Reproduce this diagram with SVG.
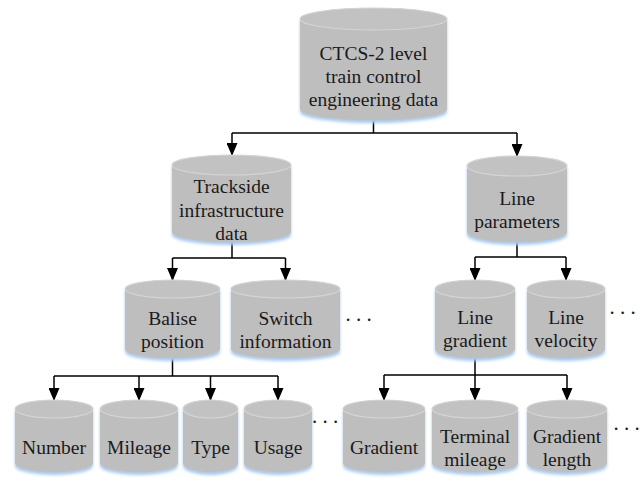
<svg xmlns="http://www.w3.org/2000/svg" width="644" height="481" viewBox="0 0 644 481">
  <style>
    .glow { fill: #a9c9ec; filter: url(#soft); }
    .body { fill: #bebebe; }
    .lid { fill: #c2c2c2; stroke: #d4d4d4; stroke-width: 1.2; }
    text { font-family: "Liberation Serif", "Tinos", "Times New Roman", "Nimbus Roman", "DejaVu Serif", serif; }
    .label { font-size: 19.5px; fill: #1a1a1a; text-anchor: middle; }
    .dots { font-size: 21px; fill: #1a1a1a; }
    .wire { fill: none; stroke: #000; stroke-width: 1.5; }
    .arrow { fill: none; stroke: #000; stroke-width: 1.5; marker-end: url(#head); }
  </style>
  <defs>
    <filter id="soft" x="-10%" y="-10%" width="120%" height="130%">
      <feGaussianBlur stdDeviation="1.8"/>
    </filter>
    <marker id="head" viewBox="0 0 13 11" markerWidth="13" markerHeight="11" refX="12" refY="5.5" orient="auto" markerUnits="userSpaceOnUse">
      <path d="M0,0 L13,5.5 L0,11 Z" fill="#000"/>
    </marker>
  </defs>
  <rect width="644" height="481" fill="#fff"/>

  <!-- connectors -->
  <g id="connectors">
    <path class="wire" d="M373.5,120 V133 M232,133 H517"/>
    <path class="arrow" d="M232,133 V155"/>
    <path class="arrow" d="M517,133 V156"/>

    <path class="wire" d="M232,242 V258 M172.5,258 H285.5"/>
    <path class="arrow" d="M172.5,258 V280"/>
    <path class="arrow" d="M285.5,258 V280"/>

    <path class="wire" d="M517,242 V257 M475,257 H566"/>
    <path class="arrow" d="M475,257 V280"/>
    <path class="arrow" d="M566,257 V280"/>

    <path class="wire" d="M172.5,358 V376 M54,376 H278"/>
    <path class="arrow" d="M54,376 V400"/>
    <path class="arrow" d="M139,376 V400"/>
    <path class="arrow" d="M210.5,376 V400"/>
    <path class="arrow" d="M278,376 V400"/>

    <path class="wire" d="M475,358 V375 M384,375 H567"/>
    <path class="arrow" d="M384,375 V400"/>
    <path class="arrow" d="M475,375 V400"/>
    <path class="arrow" d="M567,375 V400"/>
  </g>

  <!-- level 0 -->
  <g id="root">
    <path class="glow" transform="translate(0,3)" d="M300,19 A73.5,11 0 0 1 447,19 V109 A73.5,11 0 0 1 300,109 Z"/>
    <path class="body" d="M300,19 A73.5,11 0 0 1 447,19 V109 A73.5,11 0 0 1 300,109 Z"/>
    <ellipse class="lid" cx="373.5" cy="19" rx="73.5" ry="11"/>
    <text class="label" x="373.5" y="60">CTCS-2 level</text>
    <text class="label" x="373.5" y="83">train control</text>
    <text class="label" x="373.5" y="106">engineering data</text>
  </g>

  <!-- level 1 -->
  <g id="trackside">
    <path class="glow" transform="translate(0,3)" d="M172,165 A59.5,10 0 0 1 291,165 V232 A59.5,10 0 0 1 172,232 Z"/>
    <path class="body" d="M172,165 A59.5,10 0 0 1 291,165 V232 A59.5,10 0 0 1 172,232 Z"/>
    <ellipse class="lid" cx="231.5" cy="165" rx="59.5" ry="10"/>
    <text class="label" x="231.5" y="193">Trackside</text>
    <text class="label" x="231.5" y="216.5">infrastructure</text>
    <text class="label" x="231.5" y="240">data</text>
  </g>

  <g id="line-parameters">
    <path class="glow" transform="translate(0,3)" d="M467,166 A50,10 0 0 1 567,166 V232 A50,10 0 0 1 467,232 Z"/>
    <path class="body" d="M467,166 A50,10 0 0 1 567,166 V232 A50,10 0 0 1 467,232 Z"/>
    <ellipse class="lid" cx="517" cy="166" rx="50" ry="10"/>
    <text class="label" x="517" y="205">Line</text>
    <text class="label" x="517" y="228">parameters</text>
  </g>

  <!-- level 2 -->
  <g id="balise-position">
    <path class="glow" transform="translate(0,3)" d="M125,289 A47.5,9 0 0 1 220,289 V349 A47.5,9 0 0 1 125,349 Z"/>
    <path class="body" d="M125,289 A47.5,9 0 0 1 220,289 V349 A47.5,9 0 0 1 125,349 Z"/>
    <ellipse class="lid" cx="172.5" cy="289" rx="47.5" ry="9"/>
    <text class="label" x="172.5" y="325">Balise</text>
    <text class="label" x="172.5" y="348">position</text>
  </g>

  <g id="switch-information">
    <path class="glow" transform="translate(0,3)" d="M231,289 A54.5,9 0 0 1 340,289 V349 A54.5,9 0 0 1 231,349 Z"/>
    <path class="body" d="M231,289 A54.5,9 0 0 1 340,289 V349 A54.5,9 0 0 1 231,349 Z"/>
    <ellipse class="lid" cx="285.5" cy="289" rx="54.5" ry="9"/>
    <text class="label" x="285.5" y="325">Switch</text>
    <text class="label" x="285.5" y="348">information</text>
  </g>
  <text class="dots" x="345.5" y="321">. . .</text>

  <g id="line-gradient">
    <path class="glow" transform="translate(0,3)" d="M435,289 A40,9 0 0 1 515,289 V349 A40,9 0 0 1 435,349 Z"/>
    <path class="body" d="M435,289 A40,9 0 0 1 515,289 V349 A40,9 0 0 1 435,349 Z"/>
    <ellipse class="lid" cx="475" cy="289" rx="40" ry="9"/>
    <text class="label" x="475" y="324">Line</text>
    <text class="label" x="475" y="347">gradient</text>
  </g>

  <g id="line-velocity">
    <path class="glow" transform="translate(0,3)" d="M527,289 A39,9 0 0 1 605,289 V349 A39,9 0 0 1 527,349 Z"/>
    <path class="body" d="M527,289 A39,9 0 0 1 605,289 V349 A39,9 0 0 1 527,349 Z"/>
    <ellipse class="lid" cx="566" cy="289" rx="39" ry="9"/>
    <text class="label" x="566" y="324">Line</text>
    <text class="label" x="566" y="347">velocity</text>
  </g>
  <text class="dots" x="609.5" y="314">. . .</text>

  <!-- level 3 -->
  <g id="number">
    <path class="glow" transform="translate(0,3)" d="M15,409 A39,9 0 0 1 93,409 V463 A39,9 0 0 1 15,463 Z"/>
    <path class="body" d="M15,409 A39,9 0 0 1 93,409 V463 A39,9 0 0 1 15,463 Z"/>
    <ellipse class="lid" cx="54" cy="409" rx="39" ry="9"/>
    <text class="label" x="54" y="454">Number</text>
  </g>

  <g id="mileage">
    <path class="glow" transform="translate(0,3)" d="M100,409 A39,9 0 0 1 178,409 V463 A39,9 0 0 1 100,463 Z"/>
    <path class="body" d="M100,409 A39,9 0 0 1 178,409 V463 A39,9 0 0 1 100,463 Z"/>
    <ellipse class="lid" cx="139" cy="409" rx="39" ry="9"/>
    <text class="label" x="139" y="454">Mileage</text>
  </g>

  <g id="type">
    <path class="glow" transform="translate(0,3)" d="M183,409 A27.5,9 0 0 1 238,409 V463 A27.5,9 0 0 1 183,463 Z"/>
    <path class="body" d="M183,409 A27.5,9 0 0 1 238,409 V463 A27.5,9 0 0 1 183,463 Z"/>
    <ellipse class="lid" cx="210.5" cy="409" rx="27.5" ry="9"/>
    <text class="label" x="210.5" y="454">Type</text>
  </g>

  <g id="usage">
    <path class="glow" transform="translate(0,3)" d="M244,409 A34,9 0 0 1 312,409 V463 A34,9 0 0 1 244,463 Z"/>
    <path class="body" d="M244,409 A34,9 0 0 1 312,409 V463 A34,9 0 0 1 244,463 Z"/>
    <ellipse class="lid" cx="278" cy="409" rx="34" ry="9"/>
    <text class="label" x="278" y="454">Usage</text>
  </g>
  <text class="dots" x="312" y="423">. . .</text>

  <g id="gradient">
    <path class="glow" transform="translate(0,3)" d="M343,409 A41,9 0 0 1 425,409 V463 A41,9 0 0 1 343,463 Z"/>
    <path class="body" d="M343,409 A41,9 0 0 1 425,409 V463 A41,9 0 0 1 343,463 Z"/>
    <ellipse class="lid" cx="384" cy="409" rx="41" ry="9"/>
    <text class="label" x="384" y="454">Gradient</text>
  </g>

  <g id="terminal-mileage">
    <path class="glow" transform="translate(0,3)" d="M432,409 A43,9 0 0 1 518,409 V463 A43,9 0 0 1 432,463 Z"/>
    <path class="body" d="M432,409 A43,9 0 0 1 518,409 V463 A43,9 0 0 1 432,463 Z"/>
    <ellipse class="lid" cx="475" cy="409" rx="43" ry="9"/>
    <text class="label" x="475" y="443">Terminal</text>
    <text class="label" x="475" y="466">mileage</text>
  </g>

  <g id="gradient-length">
    <path class="glow" transform="translate(0,3)" d="M527,409 A40,9 0 0 1 607,409 V463 A40,9 0 0 1 527,463 Z"/>
    <path class="body" d="M527,409 A40,9 0 0 1 607,409 V463 A40,9 0 0 1 527,463 Z"/>
    <ellipse class="lid" cx="567" cy="409" rx="40" ry="9"/>
    <text class="label" x="567" y="443">Gradient</text>
    <text class="label" x="567" y="466">length</text>
  </g>
  <text class="dots" x="613.5" y="430">. . .</text>
</svg>
